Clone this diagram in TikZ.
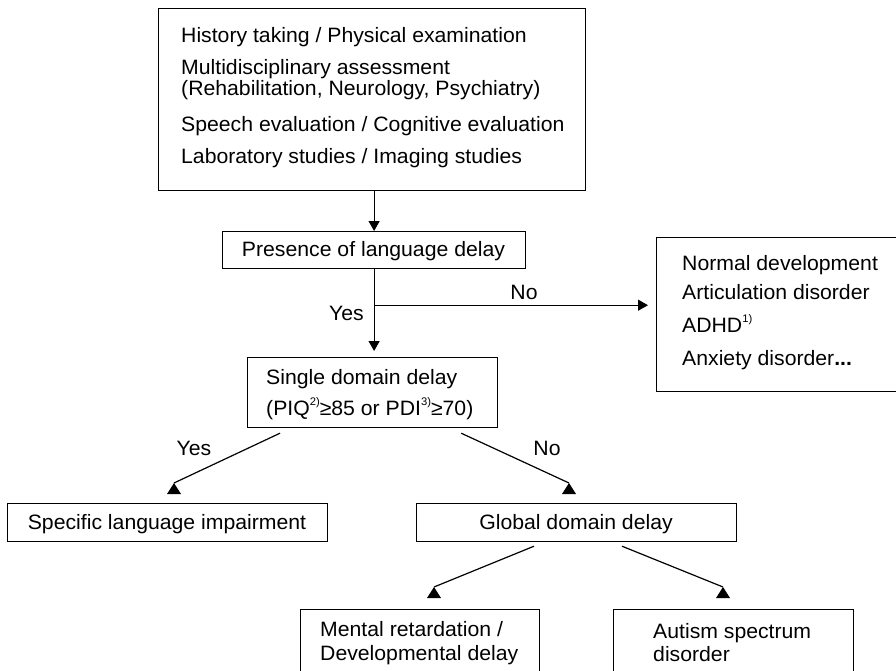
\documentclass[tikz,border=0pt]{standalone}
\usepackage{fontspec}
\setmainfont{Liberation Sans}[FakeStretch=1.02]
\usetikzlibrary{arrows.meta,calc}
\newcommand\sps[1]{\raisebox{9.5pt}{\fontsize{11}{11}\selectfont #1}}
\newcommand\uptri[1]{\fill (#1) -- ++(-7,11) -- ++(14,0) -- cycle;}
\begin{document}
\begin{tikzpicture}[x=1pt,y=-1pt,
  font=\fontsize{20.8}{22}\selectfont,
  box/.style={draw, line width=1.2pt, inner sep=0, anchor=north west},
  txt/.style={anchor=base west, inner sep=0},
  ctxt/.style={anchor=base, inner sep=0},
  conn/.style={line width=1.2pt},
  arr/.style={conn, -{Triangle[width=11pt,length=10pt]}}]
\useasboundingbox (0,0) rectangle (896,671);
% boxes
\node[box, minimum width=427pt, minimum height=182pt] (top) at (158,8) {};
\node[box, minimum width=303pt, minimum height=37pt] (pres) at (222,231) {};
\node[box, minimum width=242pt, minimum height=154pt] (right) at (656,237) {};
\node[box, minimum width=250pt, minimum height=70pt] (single) at (247,357) {};
\node[box, minimum width=320pt, minimum height=38pt] (spec) at (7,503) {};
\node[box, minimum width=320pt, minimum height=38pt] (global) at (416,503) {};
\node[box, minimum width=239pt, minimum height=75pt] (mr) at (300,609) {};
\node[box, minimum width=240pt, minimum height=75pt] (aut) at (613,609) {};
% texts
\node[txt] (t1) at (181,43) {History taking / Physical examination};
\node[txt] (t2) at (181,75) {Multidisciplinary assessment};
\node[txt] (t3) at (181,95.5) {(Rehabilitation, Neurology, Psychiatry)};
\node[txt] (t4) at (181,132) {Speech evaluation / Cognitive evaluation};
\node[txt] (t5) at (181,164) {Laboratory studies / Imaging studies};
\node[ctxt] (ptxt) at (373.5,256.5) {Presence of language delay};
\node[txt] (r1) at (682,270) {Normal development};
\node[txt] (r2) at (682,299.5) {Articulation disorder};
\node[txt] (r3) at (682,332) {ADHD\sps{1)}};
\node[txt] (r4) at (682,365) {Anxiety disorder\textbf{...}};
\node[txt] (s1t) at (266,384) {Single domain delay};
\node[txt] (s2t) at (266,415) {(PIQ\sps{2)}≥85 or PDI\sps{3)}≥70)};
\node[ctxt] (spectxt) at (167,529) {Specific language impairment};
\node[ctxt] (globtxt) at (576,529) {Global domain delay};
\node[txt] (m1) at (320,636) {Mental retardation /};
\node[txt] (m2) at (320,660) {Developmental delay};
\node[txt] (a1t) at (653,638) {Autism spectrum};
\node[txt] (a2t) at (653,661) {disorder};
% labels
\node[anchor=base east, inner sep=0] (yes1) at (364,320.5) {Yes};
\node[ctxt] (no1) at (524,299.5) {No};
\node[ctxt] (yes2) at (194,455) {Yes};
\node[ctxt] (no2) at (547,455) {No};
% connectors
\draw[arr] (pres.north |- top.south) -- (pres.north);
\draw[arr, shorten >=6pt] (pres.south) -- (pres.south |- single.north);
\coordinate (br) at ($(pres.south)+(0,36)$);
\draw[arr, shorten >=8pt] (br) -- (br -| right.west);
\coordinate (s1) at ($(single.south west)+(33,5)$);
\coordinate (s2) at ($(single.south east)+(-37,5)$);
\coordinate (g1) at ($(global.south west)+(118,4)$);
\coordinate (g2) at ($(global.south west)+(206,4)$);
\coordinate (e1) at ($(spec.north west)+(167,-20)$);
\coordinate (e2) at ($(global.north west)+(153,-20)$);
\coordinate (e3) at ($(mr.north west)+(134,-22)$);
\coordinate (e4) at ($(aut.north west)+(110,-22)$);
\draw[conn] (s1) -- (e1); \uptri{e1}
\draw[conn] (s2) -- (e2); \uptri{e2}
\draw[conn] (g1) -- (e3); \uptri{e3}
\draw[conn] (g2) -- (e4); \uptri{e4}
\end{tikzpicture}
\end{document}
